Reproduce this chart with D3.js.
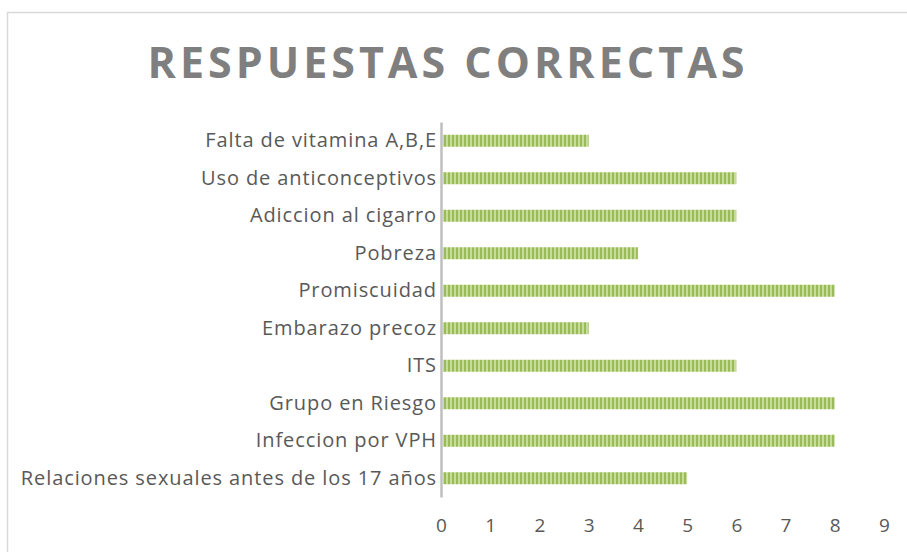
<!DOCTYPE html>
<html><head><meta charset="utf-8">
<script src="https://cdn.jsdelivr.net/npm/d3@7"></script>
<style>body{margin:0;background:#fff;}svg{display:block;}</style>
</head><body><svg id="c" width="907" height="552"></svg>
<script>
const categories = ["Falta de vitamina A,B,E","Uso de anticonceptivos","Adiccion al cigarro","Pobreza","Promiscuidad","Embarazo precoz","ITS","Grupo en Riesgo","Infeccion por VPH","Relaciones sexuales antes de los 17 años"];
const values = [3,6,6,4,8,3,6,8,8,5];
const ticks = [0,1,2,3,4,5,6,7,8,9];
const title = "RESPUESTAS CORRECTAS";

const svg = d3.select("#c");
const defs = svg.append("defs");
const pat = defs.append("pattern").attr("id","stripes").attr("patternUnits","userSpaceOnUse")
  .attr("width",4).attr("height",4);
pat.append("rect").attr("width",4).attr("height",4).attr("fill","#c5dc9a");
pat.append("rect").attr("width",2).attr("height",4).attr("fill","#9bbb59");

// frame
svg.append("rect").attr("x",7.5).attr("y",12.5).attr("width",910).attr("height",560)
  .attr("fill","#fff").attr("stroke","#d9d9d9").attr("stroke-width",1.5);

svg.append("text").attr("x",448).attr("y",78).attr("text-anchor","middle")
  .attr("font-family","'Open Sans', sans-serif").attr("font-weight","bold")
  .attr("font-size",43).attr("fill","#7f7f7f").attr("letter-spacing","4px")
  .text(title);

const x = d3.scaleLinear().domain([0,9]).range([441,884]);
const y = d3.scaleBand().domain(categories).range([122,497]).paddingInner(0.68).paddingOuter(0.34);

svg.append("g").selectAll("rect").data(categories).join("rect")
  .attr("x", x(0)+2).attr("y", d=>y(d)).attr("height", y.bandwidth())
  .attr("width", (d,i)=>x(values[i])-x(0)-2).attr("fill","url(#stripes)");

const yAxis = svg.append("g").attr("transform",`translate(${x(0)},0)`)
  .call(d3.axisLeft(y).tickSize(0).tickPadding(4));
yAxis.select(".domain").attr("stroke","#bfbfbf").attr("stroke-width",2.5);
yAxis.selectAll("text").attr("font-family","'Open Sans', sans-serif").attr("font-size",20)
  .attr("letter-spacing","0.9px").attr("fill","#595959");

const xAxis = svg.append("g").attr("transform",`translate(0,497)`)
  .call(d3.axisBottom(x).tickValues(ticks).tickSize(0).tickPadding(22).tickFormat(d3.format("d")));
xAxis.select(".domain").remove();
xAxis.selectAll("text").attr("font-family","'Open Sans', sans-serif").attr("font-size",19).attr("fill","#595959");
</script></body></html>
